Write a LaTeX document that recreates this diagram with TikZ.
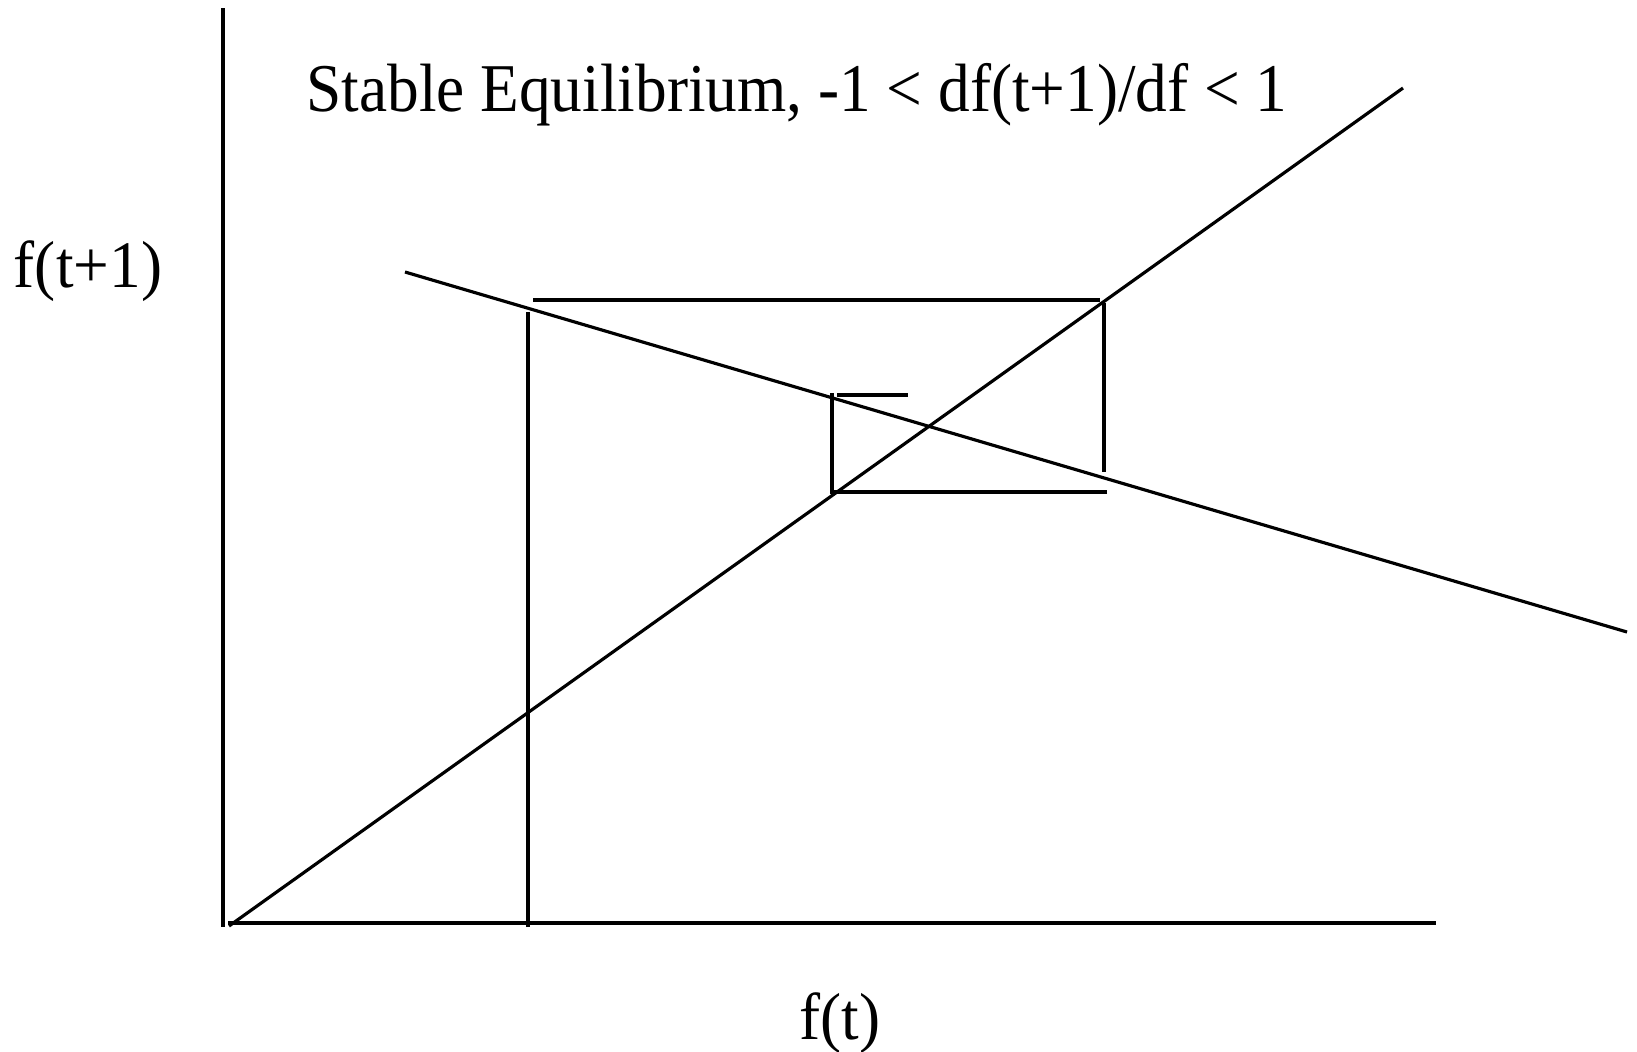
\documentclass[tikz,border=0pt]{standalone}
\usepackage{fontspec}
\setmainfont{Liberation Serif}
\begin{document}
\begin{tikzpicture}[x=0.01cm,y=-0.01cm,line width=0.9pt,every node/.style={font=\fontsize{18}{21}\selectfont,inner sep=0pt}]
\useasboundingbox (0,0) rectangle (1637,1051);
% Axes
\coordinate (ytop) at (223,8);
\coordinate (ybot) at (223,927);
\coordinate (xleft) at (228,923);
\coordinate (xright) at (1436,923);
\draw (ytop) -- (ybot);
\draw (xleft) -- (xright);
% 45 degree line and the map
\coordinate (diagA) at (229,926);
\coordinate (diagB) at (1403,88);
\coordinate (mapA) at (405,272);
\coordinate (mapB) at (1627,632);
\draw (diagA) -- (diagB);
\draw (mapA) -- (mapB);
% Cobweb steps
\draw (528,927) -- (528,312);
\draw (533,300) -- (1100,300);
\draw (1104,303) -- (1104,472);
\draw (1107,492) -- (830,492);
\draw (832,493) -- (832,393);
\draw (837,395) -- (908,395);
% Labels
\node[yscale=1.08] (title) at (797,95) {Stable Equilibrium, -1 < df(t+1)/df < 1};
\node[yscale=1.05] (ylabel) at (88,271) {f(t+1)};
\node[yscale=1.05] (xlabel) at (840,1023) {f(t)};
\end{tikzpicture}
\end{document}
